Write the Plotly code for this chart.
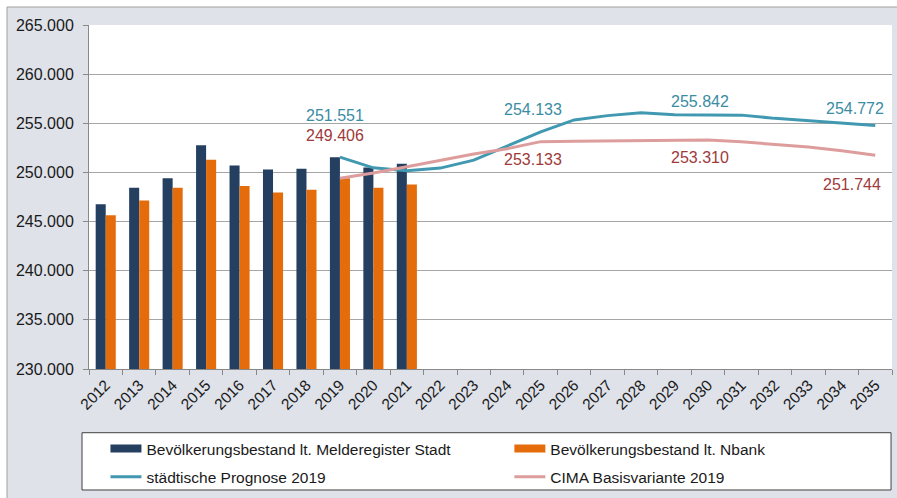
import plotly.graph_objects as go

# Bevoelkerungsentwicklung 2012-2035
years = [str(y) for y in range(2012, 2036)]

bar_years = [str(y) for y in range(2012, 2022)]
melderegister = [246770, 248430, 249420, 252760, 250710, 250310, 250370, 251551, 250510, 250880]
nbank = [245640, 247140, 248430, 251290, 248630, 247960, 248230, 249406, 248430, 248780]

line_years = [str(y) for y in range(2019, 2036)]
prognose = [251551, 250470, 250170, 250440, 251250, 252680, 254133, 255340, 255780, 256080,
            255880, 255842, 255830, 255500, 255240, 255030, 254772]
cima = [249406, 249940, 250570, 251220, 251870, 252410, 253133, 253170, 253210, 253250,
        253280, 253310, 253120, 252860, 252580, 252200, 251744]

# which points get a value label, and pixel offset
prog_labels = {"2019": 42, "2025": 22, "2030": 14, "2035": 17}
cima_labels = {"2019": 43, "2025": -18, "2030": -18, "2035": -29}

NAVY = "#243F60"
ORANGE = "#E46C0A"
TEAL = "#4199B1"
PINK = "#DE9D9D"
TEAL_TXT = "#3A8CA3"
RED_TXT = "#9E3A3A"
BG = "#DFE2E9"
FONT = "Liberation Sans, Arial, sans-serif"


def fmt(v):
    return f"{v:,}".replace(",", ".")


fig = go.Figure()
fig.add_trace(go.Bar(x=bar_years, y=melderegister, name="Bevölkerungsbestand lt. Melderegister Stadt",
                     marker_color=NAVY, marker_line_width=0, showlegend=False))
fig.add_trace(go.Bar(x=bar_years, y=nbank, name="Bevölkerungsbestand lt. Nbank",
                     marker_color=ORANGE, marker_line_width=0, showlegend=False))
fig.add_trace(go.Scatter(x=line_years, y=prognose, name="städtische Prognose 2019", mode="lines",
                         line=dict(color=TEAL, width=3), legend="legend", legendgroup="c",
                         legendrank=3))
fig.add_trace(go.Scatter(x=line_years, y=cima, name="CIMA Basisvariante 2019", mode="lines",
                         line=dict(color=PINK, width=3), legend="legend2", legendgroup="d",
                         legendrank=4))
# legend keys for the bars (wide flat rectangles like the original)
fig.add_trace(go.Scatter(x=[None], y=[None], name="Bevölkerungsbestand lt. Melderegister Stadt",
                         mode="lines", line=dict(color=NAVY, width=8), legend="legend",
                         legendgroup="a", legendrank=1))
fig.add_trace(go.Scatter(x=[None], y=[None], name="Bevölkerungsbestand lt. Nbank",
                         mode="lines", line=dict(color=ORANGE, width=8), legend="legend2",
                         legendgroup="b", legendrank=2))

anns = []
for yr, dy in prog_labels.items():
    v = prognose[line_years.index(yr)]
    anns.append(dict(x=years.index(yr), y=v, text=fmt(v), showarrow=False, yshift=dy,
                     xshift=-20 if yr == "2035" else (-5 if yr == "2019" else -8),
                     font=dict(color=TEAL_TXT, size=16)))
for yr, dy in cima_labels.items():
    v = cima[line_years.index(yr)]
    anns.append(dict(x=years.index(yr), y=v, text=fmt(v), showarrow=False, yshift=dy,
                     xshift=-23 if yr == "2035" else (-5 if yr == "2019" else -8),
                     font=dict(color=RED_TXT, size=16)))

leg_common = dict(orientation="v", xanchor="left", yanchor="top", bgcolor="rgba(0,0,0,0)",
                  font=dict(size=15.5), itemwidth=31, traceorder="grouped", tracegroupgap=5)

fig.update_layout(
    width=897, height=498,
    margin=dict(l=89, r=5, t=25, b=129, autoexpand=False),
    paper_bgcolor="white", plot_bgcolor="white",
    font=dict(family=FONT, color="#1a1a1a", size=16),
    separators=",.",
    barmode="group", bargap=0.4, bargroupgap=0,
    annotations=anns,
    showlegend=True,
    legend=dict(x=0.0205, y=-0.183, **leg_common),
    legend2=dict(x=0.5235, y=-0.183, **leg_common),
    shapes=[
        # grey chart area with thin border
        dict(type="rect", xref="paper", yref="paper", x0=-0.1021, x1=1.02, y0=-0.4, y1=1.0523,
             fillcolor=BG, line=dict(color="#A0A0A0", width=1), layer="below"),
        # white plot area
        dict(type="rect", xref="paper", yref="paper", x0=0, x1=1, y0=0, y1=1,
             fillcolor="white", line=dict(width=0), layer="below"),
        # legend box
        dict(type="rect", xref="paper", yref="paper", x0=-0.0087, x1=0.9988, y0=-0.3517, y1=-0.1852,
             fillcolor="white", line=dict(color="#404040", width=1), layer="below"),
    ],
)

fig.update_xaxes(type="category", categoryorder="array", categoryarray=years,
                 range=[-0.5, 23.5], tickangle=-45, tickson="boundaries",
                 ticks="outside", ticklen=5, tickcolor="#888888",
                 showline=True, linecolor="#888888", linewidth=1,
                 showgrid=False, tickfont=dict(size=15.5))
fig.update_yaxes(range=[230000, 265000], dtick=5000, tickformat=",d",
                 ticks="outside", ticklen=5, tickcolor="#888888", ticklabelstandoff=6,
                 showline=True, linecolor="#888888", linewidth=1,
                 showgrid=True, gridcolor="#A6A6A6", gridwidth=1,
                 zeroline=False, tickfont=dict(size=16))

fig.write_html("out.html", config={"displayModeBar": False},
               post_script="document.body.style.margin='0';")
